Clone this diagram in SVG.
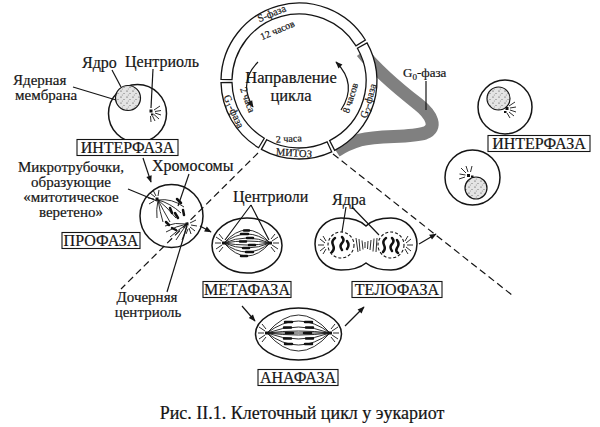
<svg xmlns="http://www.w3.org/2000/svg" width="600" height="427" viewBox="0 0 600 427">
<style>
.t{font-family:"Liberation Serif","Times New Roman",serif;fill:#151515;stroke:#151515;stroke-width:0.2}
.lab{font-size:16px}
.ml{font-size:15px}
.bx{font-size:16px}
.cap{font-size:18px}
.big{font-size:16.5px}
.sm{font-size:10px}
.bd{font-size:10.5px}
.ln{stroke:#151515;stroke-width:1.2;fill:none}
.cell{fill:#fff;stroke:#151515;stroke-width:1.5}
.nuc{fill:url(#stip);stroke:#151515;stroke-width:1.2}
.box{fill:#fff;stroke:#151515;stroke-width:1.1}
.dash{stroke:#151515;stroke-width:1.2;fill:none;stroke-dasharray:7 4}
.fib{stroke:#151515;stroke-width:0.9;fill:none}
.chr{stroke:#111;stroke-width:2.5;fill:none;stroke-linecap:round}
.ray{stroke:#151515;stroke-width:0.9;fill:none}
.seg{fill:#fff;stroke:#151515;stroke-width:1.3}
.arr{stroke:#151515;stroke-width:1.2;fill:none;marker-end:url(#ah)}
.ndash{fill:none;stroke:#151515;stroke-width:1.1;stroke-dasharray:3 2}
</style>
<defs>
<marker id="ah" viewBox="0 0 10 10" refX="9" refY="5" markerWidth="8" markerHeight="7" markerUnits="userSpaceOnUse" orient="auto"><path d="M0 1 L10 5 L0 9 Z" fill="#151515"/></marker>
<pattern id="stip" width="6" height="6" patternUnits="userSpaceOnUse"><rect width="6" height="6" fill="#e4e4e4"/><circle cx="1" cy="1" r="0.6" fill="#333"/><circle cx="4" cy="3.5" r="0.5" fill="#555"/><circle cx="2.2" cy="5" r="0.4" fill="#444"/></pattern>
</defs>
<rect width="600" height="427" fill="#fff"/>

<g id="node-g0">
<path d="M362 52 C378 72 400 90 418 104 C432 115 438 128 425 133 C410 138 380 135 360 140 C350 143 342 147 336 151" fill="none" stroke="#808080" stroke-width="13"/>
<text class="t" x="403" y="77" style="font-size:13px">G<tspan dy="3" style="font-size:9px">0</tspan><tspan dy="-3">-фаза</tspan></text>
</g>

<g id="node-cycle">
<path class="seg" d="M 221.02 79.37 A 78 78 0 0 1 365.36 40.01 L 356.00 45.79 A 67 67 0 0 0 232.01 79.60 Z"/>
<path class="seg" d="M 367.02 42.83 A 78 78 0 0 1 334.65 150.37 L 329.62 140.59 A 67 67 0 0 0 357.43 48.21 Z"/>
<path class="seg" d="M 331.72 151.81 A 78 78 0 0 1 261.42 149.35 L 266.72 139.71 A 67 67 0 0 0 327.10 141.82 Z"/>
<path class="seg" d="M 258.59 147.72 A 78 78 0 0 1 221.02 82.63 L 232.01 82.40 A 67 67 0 0 0 264.29 138.31 Z"/>
<text class="t bd" x="273" y="16.6" text-anchor="middle" transform="rotate(-22 273 16.6)">S-фаза</text>
<text class="t bd" x="230.6" y="112.9" text-anchor="middle" transform="rotate(65 230.6 112.9)">G<tspan dy="2" style="font-size:8px">1</tspan><tspan dy="-2">-фаза</tspan></text>
<text class="t bd" x="293.7" y="156.3" text-anchor="middle" transform="rotate(4 293.7 156.3)">МИТОЗ</text>
<text class="t bd" x="371.6" y="101.8" text-anchor="middle" transform="rotate(-74 371.6 101.8)">G<tspan dy="2" style="font-size:8px">2</tspan><tspan dy="-2">-фаза</tspan></text>
<text class="t sm" x="278.7" y="33.1" text-anchor="middle" transform="rotate(-23 278.7 33.1)">12 часов</text>
<text class="t sm" x="244.5" y="101" text-anchor="middle" transform="rotate(70 244.5 101)">2 часа</text>
<text class="t sm" x="289" y="142" text-anchor="middle" transform="rotate(-3 289 142)">2 часа</text>
<text class="t sm" x="353.5" y="99" text-anchor="middle" transform="rotate(-72 353.5 99)">8 часов</text>
<text class="t big" x="291" y="83" text-anchor="middle">Направление</text>
<text class="t big" x="291" y="100.5" text-anchor="middle">цикла</text>
<path class="arr" d="M258 62 Q238 82 253 107"/>
<path class="arr" d="M341 110 Q358 84 336 62"/>
</g>

<g id="node-interphase-1">
<circle class="cell" cx="137.5" cy="113.5" r="29"/>
<circle class="nuc" cx="128" cy="98" r="12.5"/>
<rect x="149.5" y="109.5" width="3" height="3" fill="#111"/>
<rect x="151" y="113.5" width="2.5" height="2" fill="#111"/>
<path class="ray" d="M154 110 L160 106 M155 111.5 L161 110.5 M155 113 L161 115 M154 114.5 L159 119 M152.5 116 L155 121 M150.5 116 L151 122"/>
<text class="t lab" x="82" y="68">Ядро</text>
<text class="t lab" x="125" y="67">Центриоль</text>
<text class="t ml" x="13" y="85">Ядерная</text>
<text class="t ml" x="15" y="100">мембрана</text>
<rect class="box" x="77" y="139.5" width="101" height="16"/>
<text class="t bx" x="127.5" y="153" text-anchor="middle">ИНТЕРФАЗА</text>
</g>

<g id="node-prophase">
<circle class="cell" cx="171.5" cy="216" r="31.5"/>
<path class="fib" d="M158 200 Q172 198 184 207 M158 200 Q170 203 181 213 M158 200 Q167 207 176 218 M158 200 Q163 210 170 222 M158 200 Q160 212 163 222 M158 200 Q156 210 157 218"/>
<path class="fib" d="M187 224 Q175 222 165 226 M187 224 Q176 226 166 232 M187 224 Q178 230 170 237 M187 224 Q181 232 176 240 M187 224 Q185 233 182 240"/>
<rect x="155.5" y="197.5" width="3" height="3" fill="#111"/>
<rect x="185.5" y="222.5" width="3" height="3" fill="#111"/>
<path class="ray" d="M155 197 L150 193 M154 199 L148 198 M156 196 L153 190 M158 196 L159 190 M154 201 L149 204"/>
<path class="ray" d="M190 227 L195 231 M191 225 L197 226 M189 228 L191 234 M190 223 L196 220 M188 229 L186 234"/>
<path class="chr" d="M177 199 l4 4 M170 208 l2 5 M175 213 l3 5 M183 210 l1 5 M166 222 l3 3 M172 228 l4 2"/>
<text class="t lab" x="152" y="171">Хромосомы</text>
<text class="t ml" x="71" y="171.5" text-anchor="middle">Микротрубочки,</text>
<text class="t ml" x="71" y="186.5" text-anchor="middle">образующие</text>
<text class="t ml" x="71" y="201.5" text-anchor="middle">«митотическое</text>
<text class="t ml" x="71" y="216.5" text-anchor="middle">веретено»</text>
<rect class="box" x="62" y="232.5" width="78" height="16"/>
<text class="t bx" x="101" y="246" text-anchor="middle">ПРОФАЗА</text>
<text class="t ml" x="147" y="301.5" text-anchor="middle">Дочерняя</text>
<text class="t ml" x="148" y="316.5" text-anchor="middle">центриоль</text>
</g>

<g id="node-metaphase">
<ellipse class="cell" cx="247" cy="245.5" rx="35" ry="27.5"/>
<path class="fib" d="M224 243 Q247 217 270 243 M224 243 Q247 225 270 243 M224 243 Q247 233 270 243 M224 243 Q247 239 270 243 M224 243 Q247 247 270 243 M224 243 Q247 253 270 243 M224 243 Q247 261 270 243 M224 243 Q247 269 270 243"/>
<path class="chr" d="M244 230.5 h5 M241 234 h7 M247 238 h6 M240 241.5 h6 M249 245 h6 M243 248 h6 M246 252 h7 M241 256 h6"/>
<rect x="222" y="241.5" width="3" height="3" fill="#111"/>
<rect x="269" y="241.5" width="3" height="3" fill="#111"/>
<path class="ray" d="M222 241 L216 237 M221 243 L215 243 M222 245 L216 249 M223 239 L219 234 M223 247 L219 252"/>
<path class="ray" d="M272 241 L278 237 M273 243 L279 243 M272 245 L278 249 M271 239 L275 234 M271 247 L275 252"/>
<text class="t lab" x="233" y="202">Центриоли</text>
<rect class="box" x="203" y="281.5" width="88" height="16"/>
<text class="t bx" x="247" y="295" text-anchor="middle">МЕТАФАЗА</text>
</g>

<g id="node-anaphase">
<ellipse class="cell" cx="298.5" cy="334" rx="43" ry="26"/>
<path class="fib" d="M267 333 Q298.5 297 330 333 M267 333 Q298.5 309 330 333 M267 333 Q298.5 321 330 333 M267 333 Q298.5 329 330 333 M267 333 L330 333 M267 333 Q298.5 337 330 333 M267 333 Q298.5 345 330 333 M267 333 Q298.5 357 330 333 M267 333 Q298.5 369 330 333"/>
<path class="chr" d="M285 322 h7 M305 322 h7 M284 327.5 h7 M306 327.5 h7 M286 333 h7 M304 333 h7 M284 338.5 h7 M306 338.5 h7 M285 344 h7 M305 344 h7"/>
<rect x="265" y="331.5" width="3" height="3" fill="#111"/>
<rect x="329" y="331.5" width="3" height="3" fill="#111"/>
<path class="ray" d="M265 331 L259 327 M264 333 L258 333 M265 335 L259 339 M266 329 L262 324 M266 337 L262 342"/>
<path class="ray" d="M332 331 L338 327 M333 333 L339 333 M332 335 L338 339 M331 329 L335 324 M331 337 L335 342"/>
<rect class="box" x="258" y="369.5" width="80" height="16"/>
<text class="t bx" x="298" y="383" text-anchor="middle">АНАФАЗА</text>
</g>

<g id="node-telophase">
<path class="cell" d="M366 226 C360 220 352 218 341 218 A 26 26 0 0 0 341 270 C352 270 360 268 366 263 C372 268 380 270 391 270 A 26 26 0 0 0 391 218 C380 218 372 220 366 226 Z"/>
<circle class="ndash" cx="341" cy="245" r="13"/>
<circle class="ndash" cx="391" cy="245" r="13"/>
<path class="chr" d="M335 238 q-4 3 -2 7 q2 4 -1 7 M342 237 q3 3 0 6 q-3 3 0 7 M347 241 q3 4 0 8"/>
<path class="chr" d="M386 238 q-4 3 -2 7 q2 4 -1 7 M392 238 q3 3 0 6 q-3 3 0 7 M397 240 q3 4 0 8 q-2 3 1 5"/>
<path class="ray" d="M325 243 L320 239 M324 245 L318 245 M325 247 L320 251 M326 241 L323 236 M326 249 L323 254"/>
<path class="ray" d="M406 243 L411 239 M407 245 L413 245 M406 247 L411 251 M405 241 L408 236 M405 249 L408 254"/>
<path class="ray" d="M356 238 L358 252 M359 239 L360 251 M362 240.5 L363 249.5 M365 242 L365 248 M368 241 L367.5 249 M371 240 L370 250 M374 238.5 L373 251.5 M377 238 L376 252"/>
<text class="t lab" x="332" y="205">Ядра</text>
<rect class="box" x="352" y="281.5" width="90" height="16"/>
<text class="t bx" x="397" y="295" text-anchor="middle">ТЕЛОФАЗА</text>
</g>

<g id="node-interphase-2a">
<circle class="cell" cx="505" cy="107" r="27"/>
<circle class="nuc" cx="498.5" cy="98.5" r="11.5"/>
<rect x="505.5" y="107" width="3" height="3" fill="#111"/>
<rect x="504" y="111" width="2.5" height="2" fill="#111"/>
<path class="ray" d="M509 106 L515 102 M510 108 L516 107 M510 110 L516 112 M509 112 L514 116 M507 113 L510 118"/>
<rect class="box" x="488" y="135.5" width="102" height="16"/>
<text class="t bx" x="539" y="149" text-anchor="middle">ИНТЕРФАЗА</text>
</g>

<g id="node-interphase-2b">
<circle class="cell" cx="472.5" cy="177.5" r="27.5"/>
<circle class="nuc" cx="476" cy="188" r="11"/>
<rect x="467" y="174" width="3" height="3" fill="#111"/>
<rect x="471" y="175.5" width="2.5" height="2" fill="#111"/>
<path class="ray" d="M466 173 L461 168 M465.5 175 L459.5 174 M468 172 L466 166 M470.5 172 L472 166 M465 177 L459 179"/>
</g>

<g id="connectors">
<path class="ln" d="M112 70 L121 87"/>
<path class="ln" d="M153 69 L151 108"/>
<path class="ln" d="M73 87 L116 100"/>
<path class="ln" d="M128 189 L157 201"/>
<path class="ln" d="M189 174 L178 206"/>
<path class="ln" d="M167 292 L187 226"/>
<path class="ln" d="M251 205 L225 240 M251 205 L269 240"/>
<path class="ln" d="M346 207 L342 232 M352 207 L379 235"/>
<path class="ln" d="M426 81 L426 110"/>
<path class="arr" d="M143 158 L151 182"/>
<path class="arr" d="M200 226 L211 232"/>
<path class="arr" d="M242 306 L255 321"/>
<path class="arr" d="M345 326 L364 307"/>
<path class="arr" d="M419 244 L436 234"/>
<path class="dash" d="M258 153 L121 289"/>
<path class="dash" d="M333 154 L512 295"/>
</g>

<text class="t cap" x="302" y="419" text-anchor="middle">Рис. II.1. Клеточный цикл у эукариот</text>
</svg>
